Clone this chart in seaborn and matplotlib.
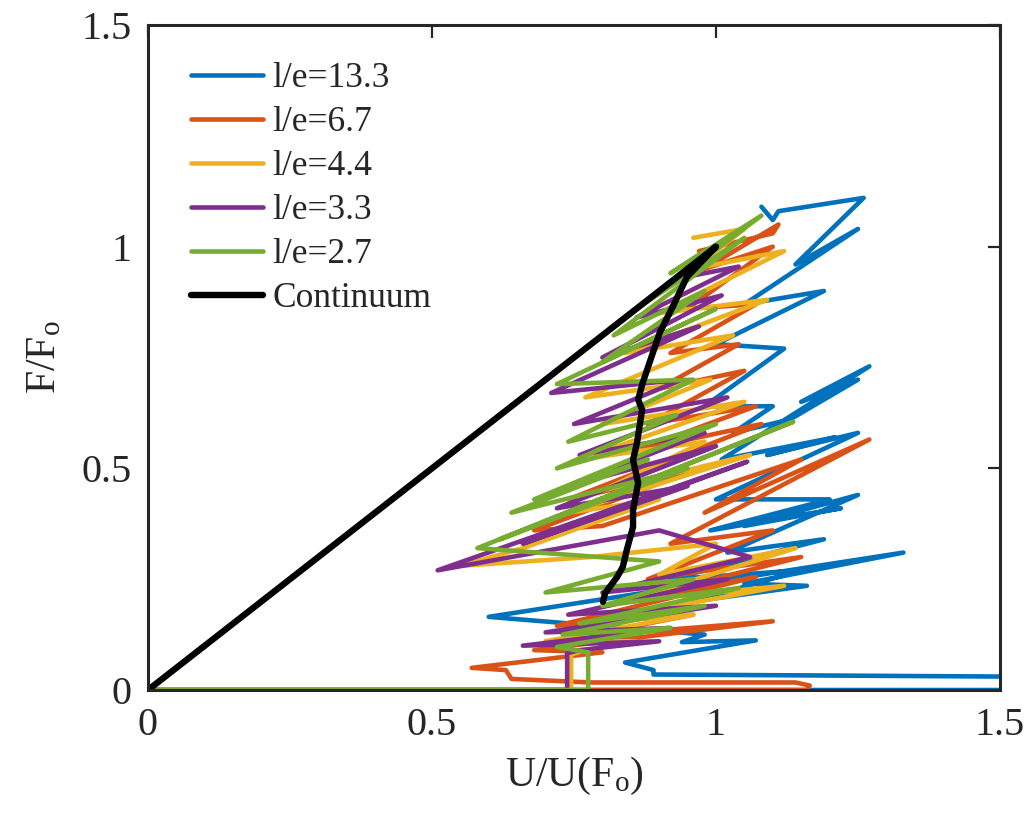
import matplotlib
matplotlib.use("Agg")
import matplotlib.pyplot as plt
import seaborn as sns
import pandas as pd

# series (U/U(Fo), F/Fo)
le133_x = [0, 1.55, 1.55, 0.89, 0.89, 0.84, 1.07, 0.94, 0.98, 0.60, 1.33, 1.05, 1.16, 0.96, 1.15, 0.92,
           1.19, 1.02, 1.25, 1.05, 1.22, 0.99, 1.20, 1.00, 1.25, 1.09, 1.21, 1.01, 1.27, 1.15, 1.25, 1.13,
           1.03, 1.10, 0.98, 1.12, 1.00, 1.19, 1.05, 1.25, 1.14, 1.26, 1.11, 1.10, 1.08]
le133_y = [0, 0.0, 0.03, 0.035, 0.045, 0.062, 0.112, 0.108, 0.125, 0.165, 0.31, 0.24, 0.235, 0.20, 0.27, 0.25,
           0.34, 0.31, 0.44, 0.37, 0.41, 0.36, 0.43, 0.43, 0.58, 0.53, 0.57, 0.52, 0.73, 0.65, 0.70, 0.61,
           0.58, 0.64, 0.64, 0.77, 0.78, 0.90, 0.87, 1.04, 0.96, 1.11, 1.08, 1.06, 1.09]

le67_x = [0, 1.16, 1.165, 1.14, 0.78, 0.64, 0.63, 0.57, 0.80, 0.68, 1.10, 0.76, 0.96, 0.72, 1.07, 0.84,
          1.15, 0.88, 1.10, 0.92, 1.27, 0.98, 1.15, 0.80, 0.68, 0.95, 0.74, 1.08, 0.86, 1.07, 0.88, 1.05,
          0.90, 1.04, 0.92, 1.07, 0.95, 1.10, 0.98, 1.11, 1.10, 0.97]
le67_y = [0, 0.0, 0.01, 0.017, 0.017, 0.025, 0.045, 0.05, 0.085, 0.09, 0.155, 0.12, 0.17, 0.145, 0.255, 0.20,
          0.30, 0.25, 0.36, 0.33, 0.565, 0.40, 0.52, 0.37, 0.36, 0.49, 0.43, 0.60, 0.54, 0.64, 0.60, 0.72,
          0.68, 0.78, 0.76, 0.87, 0.86, 1.00, 0.95, 1.05, 1.03, 0.99]

le44_x = [0, 0.745, 0.745, 0.77, 0.86, 0.70, 0.96, 0.76, 1.12, 0.84, 1.14, 0.90, 1.00, 0.78, 0.55, 0.66,
          0.90, 0.74, 1.06, 0.80, 0.98, 0.76, 1.05, 0.80, 0.99, 0.77, 1.03, 0.84, 1.09, 0.90, 1.12, 0.96,
          1.05, 0.96]
le44_y = [0, 0.0, 0.08, 0.09, 0.11, 0.11, 0.17, 0.15, 0.235, 0.20, 0.32, 0.26, 0.33, 0.30, 0.28, 0.32,
          0.43, 0.40, 0.53, 0.45, 0.56, 0.52, 0.65, 0.60, 0.70, 0.66, 0.80, 0.76, 0.88, 0.85, 0.99, 0.95,
          1.04, 1.02]

le33_x = [0, 0.738, 0.738, 0.76, 0.90, 0.66, 0.92, 0.70, 1.00, 0.74, 1.02, 0.80, 1.06, 0.90, 0.51, 1.055,
          0.66, 0.95, 0.72, 1.00, 0.74, 0.98, 0.76, 1.02, 0.75, 0.94, 0.71, 0.97, 0.80, 1.01, 0.86, 1.04, 0.94]
le33_y = [0, 0.0, 0.083, 0.09, 0.11, 0.10, 0.14, 0.13, 0.19, 0.17, 0.25, 0.22, 0.30, 0.36, 0.27, 0.515,
          0.33, 0.46, 0.41, 0.55, 0.46, 0.58, 0.53, 0.66, 0.60, 0.70, 0.67, 0.82, 0.75, 0.89, 0.84, 0.955, 0.93]

le27_x = [0, 0.775, 0.775, 0.72, 0.92, 0.73, 0.98, 0.76, 1.04, 0.80, 0.96, 0.70, 0.90, 0.58, 1.136, 0.62,
          0.95, 0.64, 0.88, 0.68, 1.00, 0.72, 0.93, 0.74, 0.96, 0.72, 1.00, 0.80, 0.98, 0.82, 1.05, 0.86,
          1.08, 0.92, 0.98]
le27_y = [0, 0.0, 0.085, 0.097, 0.14, 0.125, 0.19, 0.15, 0.23, 0.19, 0.25, 0.22, 0.29, 0.32, 0.605, 0.34,
          0.50, 0.40, 0.52, 0.43, 0.60, 0.50, 0.62, 0.56, 0.70, 0.69, 0.86, 0.74, 0.90, 0.80, 1.02, 0.86,
          1.07, 0.94, 0.99]

cont_x = [0, 1.0, 0.949, 0.924, 0.901, 0.889, 0.871, 0.863, 0.870, 0.861, 0.854, 0.863, 0.854, 0.854,
          0.843, 0.836, 0.826, 0.805, 0.801]
cont_y = [0, 1.0, 0.932, 0.865, 0.806, 0.761, 0.693, 0.655, 0.632, 0.558, 0.519, 0.467, 0.406, 0.368,
          0.316, 0.278, 0.255, 0.219, 0.199]

labels = ["l/e=13.3", "l/e=6.7", "l/e=4.4", "l/e=3.3", "l/e=2.7"]
xs = [le133_x, le67_x, le44_x, le33_x, le27_x]
ys = [le133_y, le67_y, le44_y, le33_y, le27_y]
colors = ["#0072BD", "#D95319", "#EDB120", "#7E2F8E", "#77AC30"]

sns.set_style("white")
plt.rcParams["font.family"] = ["Liberation Serif", "DejaVu Serif"]
plt.rcParams["mathtext.fontset"] = "custom"
plt.rcParams["mathtext.rm"] = "Liberation Serif"
plt.rcParams["mathtext.it"] = "Liberation Serif:italic"

fig = plt.figure(figsize=(10.29, 8.24), dpi=100)
ax = fig.add_axes([0.1438, 0.1626, 0.8280, 0.8071])

for x, y, lab, c in zip(xs, ys, labels, colors):
    df = pd.DataFrame({"u": x, "f": y})
    sns.lineplot(data=df, x="u", y="f", sort=False, estimator=None, color=c, lw=3.3, label=lab, ax=ax)

cdf = pd.DataFrame({"u": cont_x, "f": cont_y})
sns.lineplot(data=cdf, x="u", y="f", sort=False, estimator=None, color="black", lw=4.6, label="Continuum", ax=ax)

ax.set_xlim(0, 1.5)
ax.set_ylim(0, 1.5)
ax.set_xticks([0, 0.5, 1, 1.5])
ax.set_yticks([0, 0.5, 1, 1.5])
ax.set_xticklabels(["0", "0.5", "1", "1.5"])
ax.set_yticklabels(["0", "0.5", "1", "1.5"])
ax.tick_params(direction="in", length=9, width=1.6, labelsize=29, top=True, right=True, pad=12, colors="#262626")
for s in ax.spines.values():
    s.set_linewidth(2.2)
    s.set_color("#262626")
ax.set_xlabel(r"U/U(F$_\mathrm{o}$)", fontsize=30, color="#262626", labelpad=8)
ax.set_ylabel(r"F/F$_\mathrm{o}$", fontsize=30, color="#262626", labelpad=12)

leg = ax.legend(loc="upper left", frameon=False, fontsize=25.5, handlelength=2.05, handletextpad=0.25,
                labelspacing=0.31, borderaxespad=0.3, bbox_to_anchor=(0.021, 0.981))

fig.savefig("out.png", dpi=100)
